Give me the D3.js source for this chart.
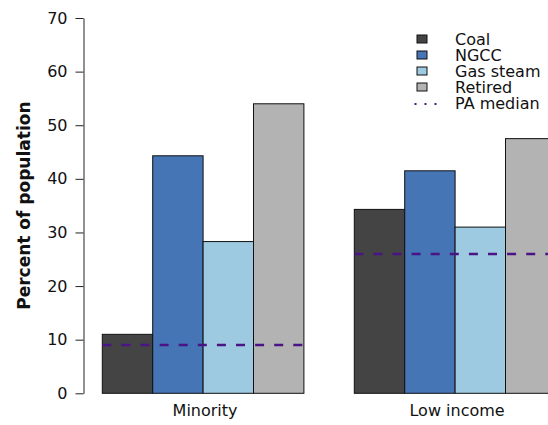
<!DOCTYPE html>
<html>
<head>
<meta charset="utf-8">
<script src="https://cdn.jsdelivr.net/npm/d3@7"></script>
<style>
  html, body { margin: 0; padding: 0; background: #fff; }
  svg { display: block; font-family: "DejaVu Sans", sans-serif; }
</style>
</head>
<body>
<svg id="chart" width="548" height="425"></svg>
<script>
// Share of population living near each plant type, by group
const groups = ["Minority", "Low income"];
const series = ["Coal", "NGCC", "Gas steam", "Retired"];
const coal = [11, 34.3];
const ngcc = [44.3, 41.5];
const gasSteam = [28.3, 31];
const retired = [54, 47.5];
const paMedian = [9, 26];
const yTicks = [0, 10, 20, 30, 40, 50, 60, 70];

const seriesValues = [coal, ngcc, gasSteam, retired];
const seriesColors = ["#444444", "#4575b4", "#9ecae1", "#b3b3b3"];
const medianColor = "#4a1486";

const svg = d3.select("#chart");

const y = d3.scaleLinear().domain([0, 70]).range([393.3, 18]);

// Two groups of four adjacent bars, one bar width between groups
const x0 = d3.scaleBand().domain(groups).range([102.3, 555.9]).paddingInner(0.2).paddingOuter(0);
const x1 = d3.scaleBand().domain(series).range([0, x0.bandwidth()]).padding(0);

const rows = [];
groups.forEach((g, gi) => {
  series.forEach((s, si) => {
    rows.push({ group: g, series: s, value: seriesValues[si][gi], color: seriesColors[si] });
  });
});

svg.append("g")
  .selectAll("rect")
  .data(rows)
  .join("rect")
  .attr("x", d => x0(d.group) + x1(d.series))
  .attr("y", d => y(d.value))
  .attr("width", x1.bandwidth())
  .attr("height", d => y(0) - y(d.value))
  .attr("fill", d => d.color)
  .attr("stroke", "#111")
  .attr("stroke-width", 1);

// Statewide median reference line across each group
svg.append("g")
  .selectAll("line")
  .data(groups.map((g, i) => ({ group: g, value: paMedian[i] })))
  .join("line")
  .attr("x1", d => x0(d.group))
  .attr("x2", d => x0(d.group) + x0.bandwidth())
  .attr("y1", d => y(d.value))
  .attr("y2", d => y(d.value))
  .attr("stroke", medianColor)
  .attr("stroke-width", 2.5)
  .attr("stroke-dasharray", "9 10.1");

// Y axis
const yAxis = svg.append("g")
  .attr("transform", "translate(83.5,0)")
  .call(d3.axisLeft(y).tickValues(yTicks).tickSize(8).tickSizeOuter(0).tickPadding(8).tickFormat(d3.format("d")));
yAxis.select(".domain").attr("stroke", "#222");
yAxis.selectAll(".tick line").attr("stroke", "#222");
yAxis.selectAll(".tick text")
  .attr("font-size", 16)
  .attr("font-family", "DejaVu Sans, sans-serif")
  .attr("fill", "#111");

svg.append("text")
  .attr("transform", `translate(30,${(y(0) + y(70)) / 2}) rotate(-90)`)
  .attr("text-anchor", "middle")
  .attr("font-size", 17)
  .attr("font-weight", "bold")
  .attr("fill", "#111")
  .text("Percent of population");

// Group labels
svg.append("g")
  .selectAll("text")
  .data(groups)
  .join("text")
  .attr("x", d => x0(d) + x0.bandwidth() / 2 + 2)
  .attr("y", 415.7)
  .attr("text-anchor", "middle")
  .attr("font-size", 16)
  .attr("fill", "#111")
  .text(d => d);

// Legend
const legendX = 417;
const legendTextX = 455;
const legendY0 = 39;
const legendStep = 16;
const legend = svg.append("g");
series.forEach((s, i) => {
  const cy = legendY0 + i * legendStep;
  legend.append("rect")
    .attr("x", legendX)
    .attr("y", cy - 4)
    .attr("width", 10)
    .attr("height", 8)
    .attr("fill", seriesColors[i])
    .attr("stroke", "#111")
    .attr("stroke-width", 1);
  legend.append("text")
    .attr("x", legendTextX)
    .attr("y", cy)
    .attr("dy", "0.36em")
    .attr("font-size", 16)
    .attr("fill", "#111")
    .text(s);
});
const medY = legendY0 + series.length * legendStep;
legend.append("line")
  .attr("x1", 414.5)
  .attr("x2", 438)
  .attr("y1", medY + 1)
  .attr("y2", medY + 1)
  .attr("stroke", medianColor)
  .attr("stroke-width", 2)
  .attr("stroke-dasharray", "2 8");
legend.append("text")
  .attr("x", legendTextX)
  .attr("y", medY)
  .attr("dy", "0.36em")
  .attr("font-size", 16)
  .attr("fill", "#111")
  .text("PA median");
</script>
</body>
</html>
